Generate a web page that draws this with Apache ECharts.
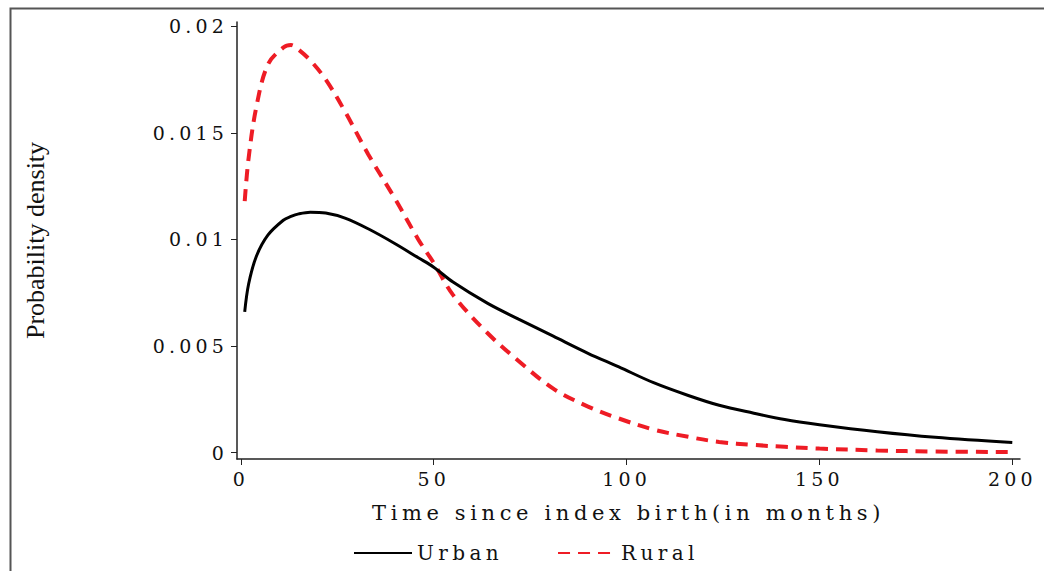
<!DOCTYPE html>
<html>
<head>
<meta charset="utf-8">
<title>Probability density by residence</title>
<script src="https://cdn.jsdelivr.net/npm/echarts@6/dist/echarts.min.js"></script>
<style>
  html, body { margin: 0; padding: 0; background: #fff; }
  #chart { width: 1044px; height: 571px; }
  /* wide lettering for the tick labels, x title and legend */
  #chart text[style*="DejaVu Serif"] { letter-spacing: 0.22em; }
</style>
</head>
<body>
<div id="chart"></div>
<script>
// Months since index birth at which the densities are sampled
const months = [1, 2, 4, 7, 11, 13, 15, 18, 22, 27, 33, 40, 46, 50, 55, 64, 72, 81, 90, 98, 107, 116, 124, 133, 141, 150, 165, 180, 200];

// Estimated probability density, urban residents
const urban = [0.0066, 0.0079, 0.0092, 0.0102, 0.0109, 0.01108, 0.0112, 0.01128, 0.01124, 0.0110, 0.0105, 0.0098, 0.00914, 0.0087, 0.0080, 0.0070, 0.00626, 0.00546, 0.00466, 0.00402, 0.00328, 0.00268, 0.00222, 0.00185, 0.00155, 0.00131, 0.00098, 0.00072, 0.00047];

// Estimated probability density, rural residents
const rural = [0.0118, 0.0138, 0.0162, 0.0182, 0.0190, 0.01912, 0.0189, 0.0184, 0.0175, 0.0160, 0.0140, 0.0119, 0.0100, 0.0089, 0.0074, 0.0056, 0.0043, 0.0030, 0.00216, 0.0016, 0.00108, 0.00074, 0.0005, 0.00036, 0.00027, 0.00019, 0.0001, 0.00005, 0.00003];

const seriesNames = ['Urban', 'Rural'];
const xTicks = [0, 50, 100, 150, 200];
const yTicks = [0, 0.005, 0.01, 0.015, 0.02];
const yTickLabels = ['0', '0.005', '0.01', '0.015', '0.02'];
const xTitle = 'Time since index birth(in months)';
const yTitle = 'Probability density';

const pairs = (ys) => months.map((m, i) => [m, ys[i]]);

const tickFont = { fontFamily: 'DejaVu Serif', fontSize: 19, color: '#111' };

const chart = echarts.init(document.getElementById('chart'), null, { renderer: 'svg' });

chart.setOption({
  animation: false,
  backgroundColor: '#fff',
  graphic: [{
    type: 'rect',
    left: 8, top: 6,
    shape: { width: 1100, height: 620 },
    style: { fill: 'none', stroke: '#555', lineWidth: 2 },
    silent: true
  }],
  grid: { left: 237, right: 24, top: 22, bottom: 112, containLabel: false },
  legend: {
    left: 348, top: 538,
    itemWidth: 58, itemHeight: 14,
    itemGap: 76,
    itemStyle: { opacity: 0 },
    textStyle: { fontFamily: 'DejaVu Serif', fontSize: 20, color: '#111' },
    data: seriesNames
  },
  xAxis: {
    type: 'value',
    min: -1, max: 202,
    axisLine: { show: true, onZero: false, lineStyle: { color: '#222', width: 1.5 } },
    axisTick: { show: true, length: 6, customValues: xTicks, lineStyle: { color: '#222', width: 1 } },
    axisLabel: Object.assign({ margin: 10, customValues: xTicks }, tickFont),
    splitLine: { show: false },
    name: xTitle,
    nameLocation: 'middle',
    nameGap: 43,
    nameTextStyle: { fontFamily: 'DejaVu Serif', fontSize: 21, color: '#111' }
  },
  yAxis: {
    type: 'value',
    min: -0.0003, max: 0.0202,
    axisLine: { show: true, onZero: false, lineStyle: { color: '#222', width: 1.5 } },
    axisTick: { show: true, length: 6, customValues: yTicks, lineStyle: { color: '#222', width: 1 } },
    axisLabel: Object.assign({
      margin: 9,
      customValues: yTicks,
      formatter: (v) => {
        const i = yTicks.findIndex((t) => Math.abs(t - v) < 1e-9);
        return i >= 0 ? yTickLabels[i] : '';
      }
    }, tickFont),
    splitLine: { show: false },
    name: yTitle,
    nameLocation: 'middle',
    nameGap: 189,
    nameTextStyle: { fontFamily: 'Liberation Serif', fontSize: 26, color: '#111' }
  },
  series: [
    {
      name: seriesNames[0],
      type: 'line',
      data: pairs(urban),
      smooth: 0.35,
      symbol: 'none',
      lineStyle: { color: '#000', width: 3 },
      itemStyle: { color: '#000' },
      z: 3
    },
    {
      name: seriesNames[1],
      type: 'line',
      data: pairs(rural),
      smooth: 0.35,
      symbol: 'none',
      lineStyle: { color: '#ee1c25', width: 4, type: [12, 8] },
      itemStyle: { color: '#ee1c25' },
      z: 2
    }
  ]
});
</script>
</body>
</html>
